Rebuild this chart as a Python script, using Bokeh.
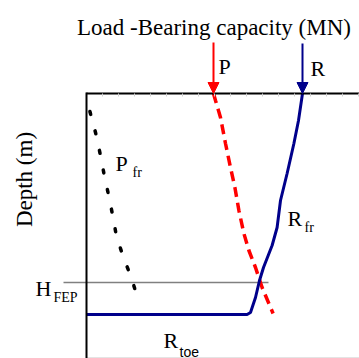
import math
from bokeh.plotting import figure
from bokeh.models import (Range1d, LinearAxis, Arrow, NormalHead, Label,
                          SingleIntervalTicker)
from bokeh.embed import file_html
from bokeh.resources import INLINE

# ---- data (load in MN, depth in m) ----
r_depth = [0, 1.35, 2.5, 4.0, 5.35, 6.7, 7.6, 8.7, 9.35, 10.2, 10.95, 11.05, 11.05]
r_load = [10.8, 10.6, 10.37, 10.03, 9.7, 9.53, 9.28, 8.85, 8.65, 8.45, 8.2, 8.03, 0]

p_depth = [0, 0.35, 1.2, 2.5, 3.7, 4.7, 5.85, 7.0, 7.85, 8.7, 9.7, 11.0]
p_load = [6.35, 6.45, 6.7, 6.95, 7.2, 7.42, 7.62, 7.87, 8.12, 8.45, 8.78, 9.33]

pfr_depth = [0.9, 2.1, 3.1, 4.15, 5.15, 6.15, 7.15, 8.2, 9.2, 10.3]
pfr_load = [0.17, 0.49, 0.7, 0.9, 1.12, 1.32, 1.5, 1.85, 2.24, 2.58]

h_fep = 9.45
h_fep_load = [-1.15, 9.1]

SERIF = "Liberation Serif"
SANS = "Liberation Sans"


def X(px):
    return (px - 86) / 20.0


def Y(py):
    return (py - 93) / 20.0


p = figure(width=359, height=358, output_backend="svg", toolbar_location=None,
           x_range=Range1d(X(0), X(359)), y_range=Range1d(Y(358), Y(0)),
           x_axis_type=None, y_axis_type=None, min_border=0)
p.outline_line_color = None
p.grid.visible = False
p.background_fill_color = "white"
p.border_fill_color = "white"

# axes drawn as the box
top = LinearAxis(fixed_location=0, bounds=(0, X(359)), axis_line_width=2,
                 axis_line_color="black", major_tick_in=3, major_tick_out=0,
                 major_tick_line_color="#d0d0d0", minor_tick_line_color=None,
                 major_label_text_color=None,
                 ticker=SingleIntervalTicker(interval=0.8))
p.add_layout(top, "above")
left = LinearAxis(fixed_location=0, bounds=(Y(92), Y(358)), axis_line_width=2,
                  axis_line_color="black", major_tick_line_color=None,
                  minor_tick_line_color=None, major_label_text_color=None)
p.add_layout(left, "left")
bottom = LinearAxis(fixed_location=Y(357), bounds=(0, X(359)), axis_line_width=1,
                    axis_line_color="#e4e4e4", major_tick_line_color=None,
                    minor_tick_line_color=None, major_label_text_color=None)
p.add_layout(bottom, "below")

# H_FEP line
p.line(h_fep_load, [h_fep, h_fep], line_color="#808080", line_width=1.5)

# curves
p.line(pfr_load, pfr_depth, line_color="black", line_width=3.5,
       line_dash="3 17", line_cap="round")
p.line(p_load, p_depth, line_color="#ff0000", line_width=3.5, line_dash="10 6")
p.line(r_load, r_depth, line_color="#00008B", line_width=3)

# arrows
p.add_layout(Arrow(end=NormalHead(size=11, fill_color="#ff0000", line_color="#ff0000"),
                   x_start=p_load[0], y_start=Y(42), x_end=p_load[0], y_end=p_depth[0],
                   line_color="#ff0000", line_width=2))
p.add_layout(Arrow(end=NormalHead(size=11, fill_color="#00008B", line_color="#00008B"),
                   x_start=r_load[0], y_start=Y(43), x_end=r_load[0], y_end=r_depth[0],
                   line_color="#00008B", line_width=2))


def lab(text, px, py, size, align="left", angle=0.0, baseline="alphabetic", font=SERIF):
    p.add_layout(Label(x=X(px), y=Y(py), text=text, text_font=font,
                       text_font_size=size, text_align=align, angle=angle,
                       text_baseline=baseline, text_color="black"))


lab("Load -Bearing capacity (MN)", 213.5, 27, "23px", align="center")
lab("P", 218, 66, "22px")
lab("R", 310, 68, "22px")
lab("Depth (m)", 24, 179, "23px", align="center", angle=math.pi / 2, baseline="middle")
lab("P", 115, 163, "22px")
lab("fr", 132, 172, "14px")
lab("R", 287, 218, "22px")
lab("fr", 304, 227, "14px")
lab("H", 35, 288, "22px")
lab("FEP", 53, 297, "14px")
lab("R", 163, 340, "22px")
lab("toe", 179, 351, "14px", font=SANS)

open("out.html", "w").write(file_html(p, INLINE))
